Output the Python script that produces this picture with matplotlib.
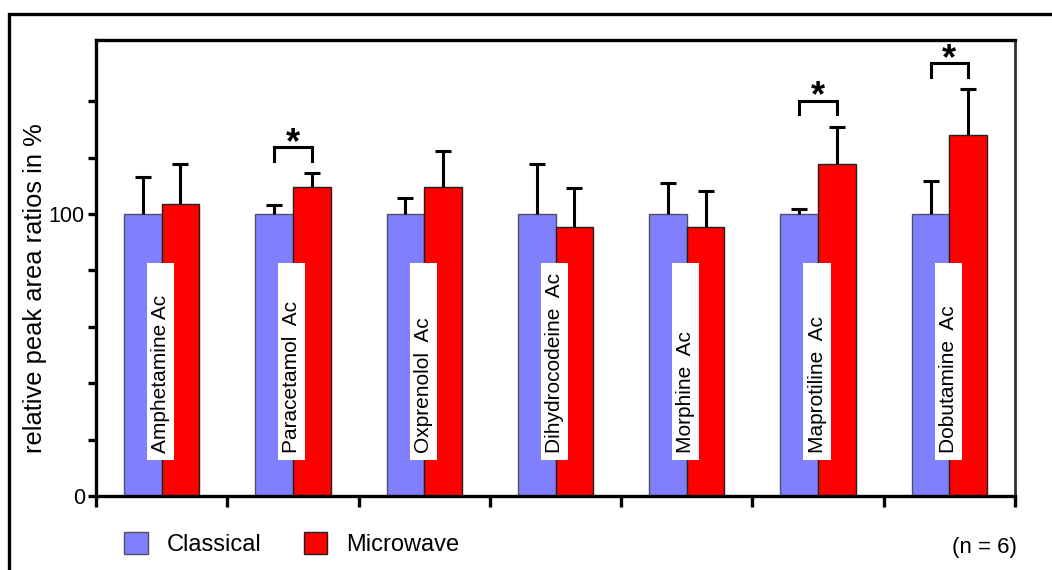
import matplotlib
matplotlib.use("Agg")
import matplotlib.pyplot as plt
import numpy as np
from matplotlib.lines import Line2D

plt.rcParams['font.family'] = ['Liberation Sans', 'DejaVu Sans']

compounds = ["Amphetamine Ac", "Paracetamol  Ac", "Oxprenolol  Ac", "Dihydrocodeine  Ac",
             "Morphine  Ac", "Maprotiline  Ac", "Dobutamine  Ac"]
classical = [100, 100, 100, 100, 100, 100, 100]
classical_err = [13.2, 3.1, 5.6, 17.6, 10.9, 1.7, 11.6]
microwave = [103.6, 109.5, 109.5, 95.3, 95.5, 117.7, 128.1]
microwave_err = [14.0, 4.9, 12.7, 14.0, 12.8, 13.2, 16.1]
significant = [1, 5, 6]
series_names = ["Classical", "Microwave"]
note = "(n = 6)"
ylabel = "relative peak area ratios in %"

W, H = 1052, 570
fig = plt.figure(figsize=(W / 100, H / 100), dpi=100)
ax = fig.add_axes([96 / W, 1 - 496 / H, (1015 - 96) / W, (496 - 40) / H])

x = np.arange(len(compounds))
bw = 0.287
blue = '#8080FF'
red = '#FF0000'

b1 = ax.bar(x - bw / 2, classical, width=bw, color=blue, edgecolor='#505060', linewidth=1.0, zorder=2)
b2 = ax.bar(x + bw / 2, microwave, width=bw, color=red, edgecolor='#202020', linewidth=1.0, zorder=2)

# error bars (upper only)
cl = np.array(classical); ce = np.array(classical_err)
mw = np.array(microwave); me = np.array(microwave_err)
for xs, v, e in [(x - bw / 2, cl, ce), (x + bw / 2, mw, me)]:
    ax.vlines(xs, v, v + e, color='black', linewidth=2.2, zorder=3)
    ax.plot(xs, v + e, linestyle='none', marker='_', markersize=12, markeredgewidth=2.2,
            color='black', zorder=3)

# label boxes with rotated text
box_bottom, box_top = 12.8, 82.6
ax.bar(x - 0.008, box_top - box_bottom, bottom=box_bottom, width=0.206, color='white',
       edgecolor='none', zorder=4)
for xi, name in zip(x, compounds):
    ax.text(xi - 0.008, 15.3, name, rotation=90, ha='center', va='bottom', fontsize=15, zorder=5)

# significance brackets
for i in significant:
    top = mw[i] + me[i]
    y0 = top + 4.5
    y1 = top + 9.2
    ax.plot([i - bw / 2, i - bw / 2, i + bw / 2, i + bw / 2], [y0, y1, y1, y0],
            color='black', linewidth=2.2, zorder=3, solid_joinstyle='miter')
    ax.text(i, y1 - 4.8, '*', ha='center', va='bottom', fontsize=26, fontweight='bold', zorder=3)

ax.set_xlim(-0.5, len(compounds) - 0.5)
ax.set_ylim(0, 161.7)
ax.set_xticks(np.arange(-0.5, len(compounds), 1.0))
ax.set_xticklabels([])
ax.set_yticks([0, 100])
ax.set_yticklabels(['0', '100'])
ax.set_yticks([20, 40, 60, 80, 120, 140], minor=True)
ax.tick_params(axis='y', which='both', direction='out', length=6, width=2.4, pad=2, labelsize=15.5)
ax.tick_params(axis='x', which='both', direction='out', length=8, width=2.4)
for s in ax.spines.values():
    s.set_linewidth(2.4)
    s.set_color('black')
ax.spines['right'].set_linewidth(2.0)
ax.spines['right'].set_color('#303030')

fig.text(35 / W, 1 - 288 / H, ylabel, rotation=90, ha='center', va='center', fontsize=18.4)

leg = fig.legend([b1, b2], series_names, loc='center left', bbox_to_anchor=(124 / W, 1 - 544 / H),
                 ncol=2, frameon=False, fontsize=17, handlelength=1.0, handleheight=1.05,
                 handletextpad=0.8, columnspacing=1.8, borderpad=0, borderaxespad=0)
fig.text(1017 / W, 1 - 547 / H, note, ha='right', va='center', fontsize=16)

# outer frame
fig.add_artist(Line2D([9 / W, 9 / W, 1.0], [0, 1 - 14 / H, 1 - 14 / H], transform=fig.transFigure,
                      color='black', linewidth=2.4, solid_joinstyle='miter'))

fig.savefig('out.png', dpi=100)
